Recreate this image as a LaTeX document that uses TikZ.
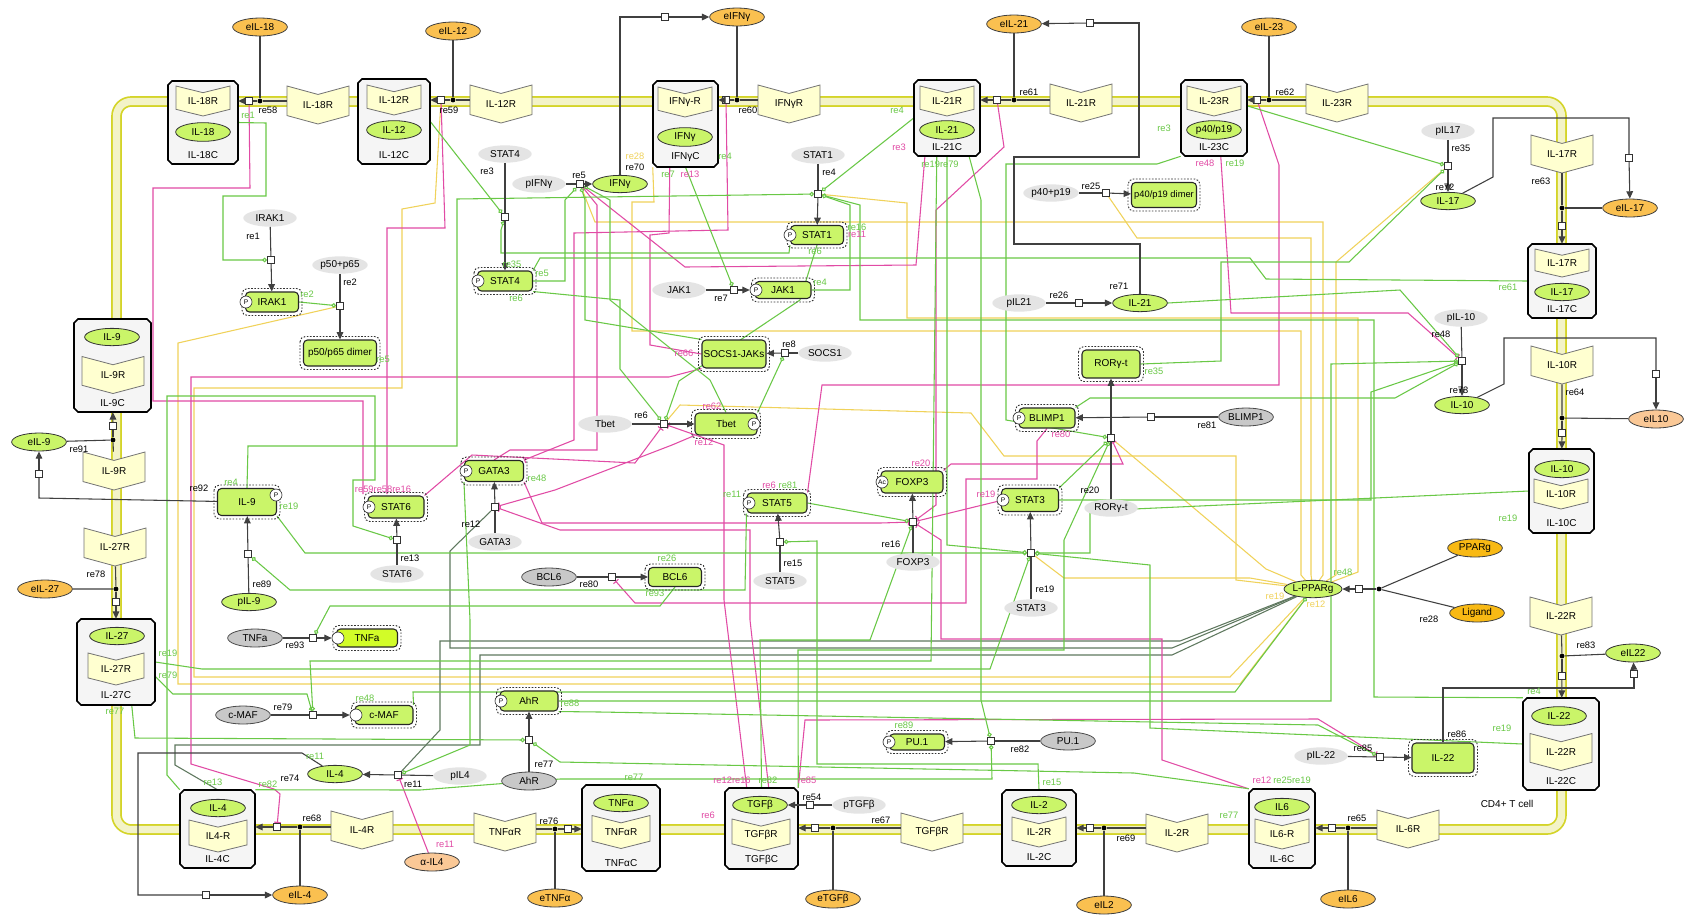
\documentclass[tikz,border=0pt]{standalone}
\usepackage{fontspec}
\setmainfont{Liberation Sans}
\usetikzlibrary{shapes.geometric,arrows.meta,calc}
\pgfdeclarelayer{memb}
\pgfdeclarelayer{lines}
\pgfsetlayers{memb,lines,main}
\definecolor{cG}{RGB}{105,200,70}
\definecolor{cP}{RGB}{225,75,165}
\definecolor{cY}{RGB}{240,210,90}
\definecolor{cD}{RGB}{95,120,95}
\definecolor{nodeG}{RGB}{202,245,105}
\definecolor{tnfG}{RGB}{210,252,40}
\definecolor{ligO}{RGB}{250,192,80}
\definecolor{ligP}{RGB}{250,200,150}
\definecolor{ligD}{RGB}{248,185,20}
\definecolor{geneG}{RGB}{228,228,228}
\definecolor{darkG}{RGB}{200,200,200}
\definecolor{rcpF}{RGB}{255,255,208}
\definecolor{cplxF}{RGB}{245,245,245}
\definecolor{memF}{RGB}{243,243,200}
\definecolor{memL}{RGB}{212,212,40}
\newcounter{lbl}
\newcommand{\lb}[4][black]{\stepcounter{lbl}\node[lbl,text=#1] (lb\arabic{lbl}) at (#2,#3) {#4};}
\newcommand{\cplx}[7]{%
  \draw[cplxd] ({#2+4},#3) -- ({#4-4},#3) -- (#4,{#3+4}) -- (#4,{#5-4}) -- ({#4-4},#5) -- ({#2+4},#5) -- (#2,{#5-4}) -- (#2,{#3+4}) -- cycle;
  \node[inner sep=0pt, minimum width={(#4-#2)*0.75pt}, minimum height={(#5-#3)*0.75pt}] (#1) at ({(#2+#4)/2},{(#3+#5)/2}) {};
  \node[inner sep=0pt] (#1l) at ({(#2+#4)/2},#7) {#6};
}
\newcommand{\rcp}[6]{%
  \draw[rcpd] ({#2-#4/2},{#3-#5/2}) -- (#2,{#3-#5/2+#5/4.5}) -- ({#2+#4/2},{#3-#5/2}) -- ({#2+#4/2},{#3+#5/2-#5/4.5}) -- (#2,{#3+#5/2}) -- ({#2-#4/2},{#3+#5/2-#5/4.5}) -- cycle;
  \node[inner sep=0pt, minimum width={#4*0.75pt}, minimum height={#5*0.75pt}] (#1) at (#2,#3) {#6};
}
\newcommand{\prot}[7][nodeG]{%
  \draw[dashbox] ({#3-#5/2-3.5},{#4-#6/2-3.5}) rectangle ({#3+#5/2+3.5},{#4+#6/2+3.5});
  \node[protn, fill=#1, minimum width={#5*0.75pt}, minimum height={#6*0.75pt}] (#2) at (#3,#4) {#7};
}
\newcommand{\mc}[4]{\node[modcirc] (#1) at (#2,#3) {#4};}
\tikzset{
 rl/.style={draw=black!75, line width=0.8pt},
 rla/.style={rl, -{Triangle[length=5.5pt,width=5pt]}},
 sq/.style={rectangle, draw=black!80, fill=white, inner sep=0pt, minimum size=5.5pt, line width=0.6pt},
 dotn/.style={circle, fill=black, inner sep=0pt, minimum size=3.6pt},
 lig/.style={ellipse, draw=black!75, fill=ligO, inner sep=0pt, minimum width=41pt, minimum height=13.5pt, line width=0.6pt},
 gene/.style={ellipse, fill=geneG, inner sep=0pt, minimum width=40pt, minimum height=13pt},
 dgene/.style={ellipse, fill=darkG, draw=black!70, line width=0.6pt, inner sep=0pt, minimum width=41pt, minimum height=13.5pt},
 spe/.style={ellipse, fill=nodeG, draw=black!80, line width=0.6pt, inner sep=0pt, minimum width=41pt, minimum height=13pt},
 protn/.style={rectangle, rounded corners=3pt, draw=black!85, line width=0.8pt, inner sep=0pt},
 dashbox/.style={draw=black!80, line width=0.7pt, dash pattern=on 1.2pt off 1.2pt, rounded corners=4pt},
 modcirc/.style={circle, draw=black!80, fill=white, inner sep=0pt, minimum size=9pt, line width=0.5pt, font=\fontsize{5}{5}\selectfont},
 rcpd/.style={draw=black!55, fill=rcpF, line width=0.6pt},
 cplxd/.style={draw=black, fill=cplxF, line width=1.2pt},
 lbl/.style={inner sep=0pt, font=\fontsize{7}{7}\selectfont},
 gl/.style={draw=cG, line width=0.8pt},
 gm/.style={gl, -{Circle[length=3.4pt,fill=white]}},
 pl/.style={draw=cP, line width=0.8pt},
 pb/.style={pl, -{Bar[width=5pt]}},
 yl/.style={draw=cY, line width=0.8pt},
 dl/.style={draw=cD, line width=0.8pt},
}
\begin{document}
\begin{tikzpicture}[x=0.75pt,y=-0.75pt,font=\fontsize{7.5}{8}\selectfont]
\useasboundingbox (0,0) rectangle (1687,922);
\begin{pgfonlayer}{memb}
\fill[white] (0,0) rectangle (1687,922);
\draw[memL, line width=8pt, rounded corners=11pt] (116.5,101.5) rectangle (1561.5,829.5);
\draw[memF, line width=5.4pt, rounded corners=11pt] (116.5,101.5) rectangle (1561.5,829.5);
\end{pgfonlayer}

% ---------- complexes ----------
\cplx{C18}{168}{81}{238}{164}{IL-18C}{155}
\rcp{C18r}{203}{101}{54}{30}{IL-18R}
\node[spe, minimum height=14pt] (C18e) at (203,132) {IL-18};
\cplx{C12}{358}{79}{430}{164}{IL-12C}{155}
\rcp{C12r}{394}{100}{54}{30}{IL-12R}
\node[spe, minimum height=14pt] (C12e) at (394,130) {IL-12};
\cplx{CIFN}{653}{81}{718}{167}{IFNγC}{157}
\rcp{CIFNr}{685}{102}{54}{30}{IFNγ-R}
\node[spe, minimum height=14pt] (CIFNe) at (685,137) {IFNγ};
\cplx{C21}{914}{80}{980}{156}{IL-21C}{147}
\rcp{C21r}{947}{101}{54}{30}{IL-21R}
\node[spe, minimum height=14pt] (C21e) at (947,130) {IL-21};
\cplx{C23}{1181}{80}{1247}{156}{IL-23C}{147}
\rcp{C23r}{1214}{101}{54}{30}{IL-23R}
\node[spe, minimum height=14pt] (C23e) at (1214,130) {p40/p19};
\cplx{C17}{1528}{244}{1596}{318}{IL-17C}{309}
\rcp{C17r}{1562}{263}{54}{28}{IL-17R}
\node[spe] (C17e) at (1562,292) {IL-17};
\cplx{C10}{1529}{449}{1594}{533}{IL-10C}{523}
\node[spe] (C10e) at (1562,469) {IL-10};
\rcp{C10r}{1561}{494}{54}{30}{IL-10R}
\cplx{C22}{1523}{698}{1599}{790}{IL-22C}{781}
\node[spe, minimum height=14pt] (C22e) at (1559,716) {IL-22};
\rcp{C22r}{1561}{752}{62}{37}{IL-22R}
\cplx{C6}{1249}{789}{1315}{868}{IL-6C}{859}
\node[spe] (C6e) at (1282,807) {IL6};
\rcp{C6r}{1282}{834}{54}{30}{IL6-R}
\cplx{C2}{1002}{790}{1076}{866}{IL-2C}{857}
\node[spe] (C2e) at (1039,805) {IL-2};
\rcp{C2r}{1039}{832}{54}{30}{IL-2R}
\cplx{CTGF}{725}{788}{798}{869}{TGFβC}{860}
\node[spe] (CTGFe) at (760,805) {TGFβ};
\rcp{CTGFr}{761}{835}{58}{32}{TGFβR}
\cplx{CTNF}{582}{785}{660}{871}{TNFαC}{863}
\node[spe] (CTNFe) at (621,803) {TNFα};
\rcp{CTNFr}{621}{832}{58}{33}{TNFαR}
\cplx{C4}{180}{790}{255}{868}{IL-4C}{859}
\node[spe] (C4e) at (218,808) {IL-4};
\rcp{C4r}{218}{836}{58}{32}{IL4-R}
\cplx{C27}{77}{619}{155}{705}{IL-27C}{695}
\node[spe] (C27e) at (117,636) {IL-27};
\rcp{C27r}{116}{669}{56}{32}{IL-27R}
\cplx{C9}{74}{319}{151}{412}{IL-9C}{403}
\node[spe] (C9e) at (112,337) {IL-9};
\rcp{C9r}{113}{375}{62}{37}{IL-9R}

% ---------- membrane receptors ----------
\rcp{R18}{318}{105}{62}{38}{IL-18R}
\rcp{R12}{501}{104}{62}{38}{IL-12R}
\rcp{RIFN}{789}{104}{62}{38}{IFNγR}
\rcp{R21}{1081}{103}{62}{38}{IL-21R}
\rcp{R23}{1337}{103}{62}{38}{IL-23R}
\rcp{R17}{1562}{154}{62}{38}{IL-17R}
\rcp{R10}{1562}{365}{62}{38}{IL-10R}
\rcp{R22}{1561}{616}{62}{38}{IL-22R}
\rcp{R6}{1408}{829}{62}{38}{IL-6R}
\rcp{R2}{1177}{833}{62}{38}{IL-2R}
\rcp{RTGF}{932}{832}{62}{38}{TGFβR}
\rcp{RTNF}{505}{832}{62}{38}{TNFαR}
\rcp{R4}{362}{830}{62}{38}{IL-4R}
\rcp{R27}{115}{547}{62}{38}{IL-27R}
\rcp{R9}{114}{471}{62}{38}{IL-9R}

% ---------- external ligands ----------
\node[lig] (eIL18) at (260,27) {eIL-18};
\node[lig] (eIL12) at (453,31) {eIL-12};
\node[lig] (eIFNg) at (737,17) {eIFNγ};
\node[lig] (eIL21) at (1014,24) {eIL-21};
\node[lig] (eIL23) at (1269,27) {eIL-23};
\node[lig] (eIL17) at (1630,208) {eIL-17};
\node[lig, fill=ligP] (eIL10) at (1656,419) {eIL10};
\node[spe, minimum height=13.5pt] (eIL22) at (1633,653) {eIL22};
\node[lig] (eIL6) at (1348,899) {eIL6};
\node[lig] (eIL2) at (1104,905) {eIL2};
\node[lig] (eTGFb) at (833,899) {eTGFβ};
\node[lig] (eTNFa) at (555,898) {eTNFα};
\node[lig, fill=ligP] (aIL4) at (432,862) {α-IL4};
\node[lig] (eIL4) at (300,895) {eIL-4};
\node[lig] (eIL27) at (45,589) {eIL-27};
\node[spe, minimum height=13.5pt] (eIL9) at (39,442) {eIL-9};

% ---------- membrane reactions ----------
\node[dotn] (d58) at (260,101) {}; \node[sq] (s58) at (249,101) {};
\node[dotn] (d59) at (453,100) {}; \node[sq] (s59) at (441,100) {};
\node[dotn] (d60) at (737,100) {}; \node[sq] (s60) at (726,100) {};
\node[dotn] (d61) at (1014,100) {}; \node[sq] (s61) at (997,100) {};
\node[dotn] (d62) at (1269,100) {}; \node[sq] (s62) at (1257,100) {};
\node[dotn] (d63) at (1562,208) {}; \node[sq] (s63) at (1562,226) {};
\node[dotn] (d64) at (1562,418) {}; \node[sq] (s64) at (1562,433) {};
\node[dotn] (d83) at (1562,656) {}; \node[sq] (s83) at (1562,676) {};
\node[dotn] (d65) at (1348,828) {}; \node[sq] (s65) at (1332,828) {};
\node[dotn] (d69) at (1104,828) {}; \node[sq] (s69) at (1090,828) {};
\node[dotn] (d67) at (833,828) {}; \node[sq] (s67) at (815,828) {};
\node[dotn] (d76) at (555,829) {}; \node[sq] (s76) at (568,829) {};
\node[dotn] (d68) at (300,827) {}; \node[sq] (s68) at (277,827) {};
\node[dotn] (d78) at (116,589) {}; \node[sq] (s78) at (116,602) {};
\node[dotn] (d91) at (113,440) {}; \node[sq] (s91) at (113,426) {};

\draw[rl] (eIL18) -- (d58) -- (d58 -| R18.west); \draw[rl] (d58) -- (s58); \draw[rla] (s58) -- (s58 -| C18.east);
\draw[rl] (eIL12) -- (d59) -- (d59 -| R12.west); \draw[rl] (d59) -- (s59); \draw[rla] (s59) -- (s59 -| C12.east);
\draw[rl] (eIFNg) -- (d60) -- (d60 -| RIFN.west); \draw[rl] (d60) -- (s60); \draw[rla] (s60) -- (s60 -| CIFN.east);
\draw[rl] (eIL21) -- (d61) -- (d61 -| R21.west); \draw[rl] (d61) -- (s61); \draw[rla] (s61) -- (s61 -| C21.east);
\draw[rl] (eIL23) -- (d62) -- (d62 -| R23.west); \draw[rl] (d62) -- (s62); \draw[rla] (s62) -- (s62 -| C23.east);
\draw[rl] (R17) -- (d63) -- (eIL17); \draw[rl] (d63) -- (s63); \draw[rla] (s63) -- (C17);
\draw[rl] (R10) -- (d64) -- (eIL10); \draw[rl] (d64) -- (s64); \draw[rla] (s64) -- (C10);
\draw[rl] (R22) -- (d83) -- (eIL22); \draw[rl] (d83) -- (s83); \draw[rla] (s83) -- (C22);
\draw[rl] (eIL6) -- (d65) -- (d65 -| R6.west); \draw[rl] (d65) -- (s65); \draw[rla] (s65) -- (s65 -| C6.east);
\draw[rl] (eIL2) -- (d69) -- (d69 -| R2.west); \draw[rl] (d69) -- (s69); \draw[rla] (s69) -- (s69 -| C2.east);
\draw[rl] (eTGFb) -- (d67) -- (d67 -| RTGF.west); \draw[rl] (d67) -- (s67); \draw[rla] (s67) -- (s67 -| CTGF.east);
\draw[rl] (eTNFa) -- (d76) -- (d76 -| RTNF.east); \draw[rl] (d76) -- (s76); \draw[rla] (s76) -- (s76 -| CTNF.west);
\draw[rl] (eIL4) -- (d68) -- (d68 -| R4.west); \draw[rl] (d68) -- (s68); \draw[rla] (s68) -- (s68 -| C4.east);
\draw[rl] (R27) -- (d78) -- (eIL27); \draw[rl] (d78) -- (s78); \draw[rla] (s78) -- (C27);
\draw[rl] (R9) -- (d91) -- (eIL9); \draw[rl] (d91) -- (s91); \draw[rla] (s91) -- (C9);

% ---------- intracellular species ----------
\node[gene] (IRAK1g) at (270,218) {IRAK1};
\node[sq] (s1) at (271,260) {};
\prot{IRAK1n}{272}{302}{53}{20}{IRAK1}
\mc{IRAK1p}{246}{302}{P}
\node[gene] (p5065g) at (340,265) {p50+p65};
\node[sq] (s2) at (340,306) {};
\prot{p5065n}{340}{353}{73}{26}{p50/p65 dimer}
\node[gene] (STAT4g) at (505,154) {STAT4};
\node[sq] (s3) at (505,217) {};
\prot{STAT4n}{505}{281}{55}{20}{STAT4}
\mc{STAT4p}{478}{281}{P}
\node[gene] (pIFNg) at (539,184) {pIFNγ};
\node[sq] (s5) at (580,184) {};
\node[spe] (IFNg) at (620,184) {IFNγ};
\node[gene] (STAT1g) at (818,155) {STAT1};
\node[sq] (s4) at (818,194) {};
\prot{STAT1n}{817}{235}{53}{19}{STAT1}
\mc{STAT1p}{790}{235}{P}
\node[gene] (JAK1g) at (679,290) {JAK1};
\node[sq] (s7) at (734,290) {};
\prot{JAK1n}{783}{290}{56}{17}{JAK1}
\mc{JAK1p}{756}{290}{P}
\node[gene] (SOCS1g) at (825,353) {SOCS1};
\node[sq] (s8) at (785,353) {};
\prot{SOCS1JAKs}{734}{354}{64}{28}{SOCS1-JAKs}
\node[gene] (Tbetg) at (605,424) {Tbet};
\node[sq] (s6) at (664,424) {};
\prot{Tbetn}{726}{424}{62}{22}{Tbet}
\mc{Tbetp}{754}{424}{P}
\prot{GATA3n}{494}{471}{59}{21}{GATA3}
\mc{GATA3p}{466}{471}{P}
\node[sq] (s12) at (495,507) {};
\node[gene] (GATA3g) at (495,542) {GATA3};
\prot{STAT6n}{396}{507}{56}{22}{STAT6}
\mc{STAT6p}{369}{507}{P}
\node[sq] (s13) at (397,540) {};
\node[gene] (STAT6g) at (397,574) {STAT6};
\prot{IL9n}{247}{502}{59}{27}{IL-9}
\mc{IL9p}{276}{495}{P}
\node[sq] (s89) at (248,554) {};
\node[spe] (pIL9) at (249,602) {pIL-9};
\node[dgene] (BCL6g) at (549,577) {BCL6};
\node[sq] (s80) at (612,577) {};
\prot{BCL6n}{675}{577}{53}{19}{BCL6}
\prot{STAT5n}{777}{503}{60}{20}{STAT5}
\mc{STAT5p}{749}{503}{P}
\node[sq] (s15) at (780,542) {};
\node[gene] (STAT5g) at (780,581) {STAT5};
\prot{FOXP3n}{912}{482}{62}{22}{FOXP3}
\mc{FOXP3p}{882}{482}{Ac}
\node[sq] (s16) at (913,522) {};
\node[gene] (FOXP3g) at (913,562) {FOXP3};
\prot{STAT3n}{1030}{500}{57}{23}{STAT3}
\mc{STAT3p}{1003}{500}{P}
\node[sq] (s19) at (1031,553) {};
\node[gene] (STAT3g) at (1031,608) {STAT3};
\prot{BLIMP1n}{1047}{418}{56}{20}{BLIMP1}
\mc{BLIMP1p}{1019}{418}{P}
\node[sq] (s81) at (1151,417) {};
\node[dgene] (BLIMP1g) at (1246,417) {BLIMP1};
\prot{RORgtn}{1111}{364}{58}{28}{RORγ-t}
\node[sq] (s20) at (1111,438) {};
\node[gene] (RORgg) at (1111,508) {RORγ-t};
\node[gene] (p4019g) at (1051,193) {p40+p19};
\node[sq] (s25) at (1106,193) {};
\prot{p4019n}{1164}{195}{65}{25}{\fontsize{7}{7}\selectfont p40/p19 dimer}
\node[gene] (pIL21) at (1019,303) {pIL21};
\node[sq] (s26) at (1079,303) {};
\node[spe] (IL21e) at (1140,303) {IL-21};
\node[gene] (pIL17) at (1448,131) {pIL17};
\node[sq] (s35) at (1448,166) {};
\node[spe] (IL17e) at (1448,201) {IL-17};
\node[gene] (pIL10) at (1461,318) {pIL-10};
\node[sq] (s73) at (1462,361) {};
\node[spe] (IL10e) at (1462,405) {IL-10};
\node[lig, fill=ligD] (PPARg) at (1475,548) {PPARg};
\node[lig, fill=ligD] (Ligand) at (1477,613) {Ligand};
\node[dotn] (d28) at (1379,589) {};
\node[sq] (s28) at (1359,589) {};
\node[spe] (LPPARg) at (1313,589) {L-PPARg};
\node[gene] (pIL22) at (1321,756) {pIL-22};
\node[sq] (s85) at (1380,757) {};
\prot{IL22n}{1443}{758}{62}{30}{IL-22}
\prot{PU1n}{917}{742}{55}{16}{PU.1}
\mc{PU1p}{889}{742}{P}
\node[sq] (s82) at (991,741) {};
\node[dgene] (PU1g) at (1068,741) {PU.1};
\node[gene] (pTGFb) at (859,805) {pTGFβ};
\node[sq] (s54) at (810,805) {};
\prot{AhRn}{529}{701}{58}{20}{AhR}
\mc{AhRp}{501}{701}{P}
\node[sq] (s77) at (529,740) {};
\node[dgene] (AhRg) at (529,781) {AhR};
\node[gene] (pIL4) at (460,776) {pIL4};
\node[sq] (s11) at (398,775) {};
\node[spe] (IL4e) at (335,774) {IL-4};
\node[dgene] (cMAFg) at (243,715) {c-MAF};
\node[sq] (s79) at (313,715) {};
\prot{cMAFn}{384}{715}{58}{19}{c-MAF}
\mc{cMAFc}{356}{715}{}
\node[dgene] (TNFag) at (255,638) {TNFa};
\node[sq] (s93) at (313,638) {};
\prot[tnfG]{TNFan}{367}{638}{61}{18}{TNFa}
\mc{TNFac}{338}{638}{}

% secretion squares
\node[sq] (s70) at (665,17) {};
\node[sq] (s71) at (1090,23) {};
\node[sq] (s72b) at (1629,158) {};
\node[sq] (s73b) at (1656,374) {};
\node[sq] (s86) at (1634,674) {};
\node[sq] (s74) at (206,895) {};
\node[sq] (s92) at (39,474) {};

% ---------- black reactions ----------
\draw[rl] (IRAK1g) -- (s1); \draw[rla] (s1) -- (IRAK1n);
\draw[rl] (p5065g) -- (s2); \draw[rla] (s2) -- (p5065n);
\draw[rl] (STAT4g) -- (s3); \draw[rla] (s3) -- (STAT4n);
\draw[rl] (pIFNg) -- (s5); \draw[rla] (s5) -- (IFNg);
\draw[rl] (STAT1g) -- (s4); \draw[rla] (s4) -- (STAT1n);
\draw[rl] (JAK1g) -- (s7); \draw[rla] (s7) -- (JAK1p);
\draw[rl] (SOCS1g) -- (s8); \draw[rla] (s8) -- (SOCS1JAKs);
\draw[rl] (Tbetg) -- (s6); \draw[rla] (s6) -- (Tbetn);
\draw[rl] (GATA3g) -- (s12); \draw[rla] (s12) -- (GATA3n);
\draw[rl] (STAT6g) -- (s13); \draw[rla] (s13) -- (STAT6n);
\draw[rl] (pIL9) -- (s89); \draw[rla] (s89) -- (IL9n);
\draw[rl] (BCL6g) -- (s80); \draw[rla] (s80) -- (BCL6n);
\draw[rl] (STAT5g) -- (s15); \draw[rla] (s15) -- (STAT5n);
\draw[rl] (FOXP3g) -- (s16); \draw[rla] (s16) -- (FOXP3n);
\draw[rl] (STAT3g) -- (s19); \draw[rla] (s19) -- (STAT3n);
\draw[rl] (BLIMP1g) -- (s81); \draw[rla] (s81) -- (BLIMP1n);
\draw[rl] (RORgg) -- (s20); \draw[rla] (s20) -- (RORgtn);
\draw[rl] (p4019g) -- (s25); \draw[rla] (s25) -- (p4019n);
\draw[rl] (pIL21) -- (s26); \draw[rla] (s26) -- (IL21e);
\draw[rl] (pIL17) -- (s35); \draw[rla] (s35) -- (IL17e);
\draw[rl] (pIL10) -- (s73); \draw[rla] (s73) -- (IL10e);
\draw[rl] (PPARg) -- (d28) -- (Ligand); \draw[rl] (d28) -- (s28); \draw[rla] (s28) -- (LPPARg);
\draw[rl] (pIL22) -- (s85); \draw[rla] (s85) -- (IL22n);
\draw[rl] (PU1g) -- (s82); \draw[rla] (s82) -- (PU1n);
\draw[rl] (pTGFb) -- (s54); \draw[rla] (s54) -- (CTGFe);
\draw[rl] (AhRg) -- (s77); \draw[rla] (s77) -- (AhRn);
\draw[rl] (pIL4) -- (s11); \draw[rla] (s11) -- (IL4e);
\draw[rl] (cMAFg) -- (s79); \draw[rla] (s79) -- (cMAFc);
\draw[rl] (TNFag) -- (s93); \draw[rla] (s93) -- (TNFac);
% secretion
\draw[rl] (IFNg) -- (IFNg |- s70) -- (s70); \draw[rla] (s70) -- (eIFNg);
\draw[rl] (IL21e) -- (1140,244) -- (1014,244) -- (1014,157) -- (1139,157) -- (1139,23) -- (s71); \draw[rla] (s71) -- (eIL21);
\draw[rl] (IL17e) -- (1493,177) -- (1493,118) -- (1629,118) -- (s72b); \draw[rla] (s72b) -- (eIL17);
\draw[rl] (IL10e) -- (1504,384) -- (1504,338) -- (1656,338) -- (s73b); \draw[rla] (s73b) -- (eIL10);
\draw[rl] (IL22n.north) -- (1443,688) -- (1634,688) -- (s86); \draw[rla] (s86) -- (eIL22);
\draw[rl] (IL4e) -- (302,753) -- (138,753) -- (138,895) -- (s74); \draw[rla] (s74) -- (eIL4);
\draw[rl] (IL9n) -- (39,498) -- (s92); \draw[rla] (s92) -- (eIL9);

% ---------- modulation lines ----------
\begin{pgfonlayer}{lines}
% yellow
\draw[yl] (s59) -- (435,203) -- (402,209) -- (402,388) -- (194,388) -- (194,677) -- (1230,677) -- (LPPARg);
\draw[yl] (s2) -- (178,343) -- (178,684) -- (1240,684) -- (LPPARg);
\draw[yl] (s5) -- (595,222) -- (1323,222) -- (1323,575) -- (LPPARg);
\draw[yl] (CIFN.south west) -- (654,202) -- (632,202) -- (632,331) -- (1301,331) -- (1301,575) -- (LPPARg);
\draw[yl] (s20) -- (1266,569) -- (LPPARg);
\draw[yl] (s19) -- (1064,578) -- (1250,578) -- (LPPARg);
\draw[yl] (s25) -- (1137,238) -- (1311,238) -- (1311,575) -- (LPPARg);
\draw[yl] (s35) -- (1336,262) -- (1336,575) -- (LPPARg);
\draw[yl] (s4) -- (907,203) -- (907,318) -- (1358,318) -- (1358,572) -- (LPPARg);
\draw[yl] (s6) -- (680,405) -- (971,413) -- (1004,456) -- (1236,456) -- (1236,580) -- (LPPARg);
% dark
\draw[dl] (C4.north) -- (175,765) -- (175,745) -- (480,745) -- (480,655) -- (1172,655) -- (LPPARg);
\draw[dl] (s12) -- (450,551) -- (450,648) -- (1172,648) -- (LPPARg);
\draw[dl] (s11) -- (440,730) -- (440,641) -- (1180,641) -- (LPPARg);
% pink
\draw[pl] (s58) -- (250,188) -- (153,188) -- (153,401) -- (363,401) -- (363,494);
\draw[pl] (s59) -- (445,228) -- (387,228) -- (387,494);
\draw[pb] (SOCS1JAKs.south west) -- (669,377) -- (191,377) -- (191,764) -- (274,789) -- (280,794) -- (s68);
\draw[pl] (CIFN.-110) -- (669,233) -- (650,235) -- (650,345) -- (SOCS1JAKs.west);
\draw[pb] (s60) -- (728,230) -- (574,233) -- (574,440) -- (GATA3n.north east);
\draw[pb] (C21.-120) -- (916,265) -- (685,267) -- (s5);
\draw[pb] (s61) -- (1004,147) -- (936,210) -- (936,505) -- (s16);
\draw[pb] (C23.-80) -- (1231,313) -- (1408,313) -- (s73);
\draw[pl] (s62) -- (1279,165) -- (1279,385) -- (822,385) -- (STAT5n.north east);
\draw[pb] (Tbetn.south west) -- (672,445) -- (555,490) -- (s12);
\draw[pb] (STAT6n.north east) -- (472,455) -- (635,463) -- (s6);
\draw[pb] (GATA3n.south east) -- (542,523) -- (880,523) -- (s16);
\draw[pb] (BLIMP1n.south) -- (1037,441) -- (1037,479) -- (966,479) -- (966,603) -- (635,603) -- (s80);
\draw[pb] (FOXP3n.north east) -- (951,464) -- (1123,464) -- (s20);
\draw[pl] (s16) -- (STAT3p);
\draw[pb] (CTGF.110) -- (724,600) -- (724,445) -- (s6);
\draw[pb] (CTGF.80) -- (750,620) -- (750,530) -- (560,530) -- (s12);
\draw[pb] (CTGF.north east) -- (805,720) -- (1318,719) -- (s85);
\draw[pb] (C6.130) -- (1162,760) -- (1162,639) -- (941,639) -- (941,540) -- (s16);
\draw[pb] (aIL4) -- (s11);
\draw[pb] (GATA3n.north) -- (510,450) -- (597,450) -- (597,205) -- (s5);
% green
\draw[gm] (C18.east) -- (266,123) -- (266,196) -- (223,196) -- (223,260) -- (s1);
\draw[gm] (IRAK1n.east) -- (s2);
\draw[gm] (C12.east) -- (s3);
\draw[gm] (STAT1n.south west) -- (789,253) -- (501,253) -- (501,230) -- (s3);
\draw[gm] (STAT4n.east) -- (565,281) -- (565,200) -- (s5);
\draw[gm] (IL9n.north) -- (248,446) -- (457,446) -- (457,199) -- (s4);
\draw[gm] (IL9n.south east) -- (305,553) -- (s19);
\draw[gm] (C4.north west) -- (167,775) -- (167,396) -- (375,396) -- (375,480) -- (353,480) -- (353,526) -- (s13);
\draw[gm] (STAT5n.south west) -- (745,590) -- (290,590) -- (s89);
\draw[gm] (BCL6n.south) -- (660,606) -- (330,606) -- (s93);
\draw[gm] (C27.east) -- (202,669) -- (990,669) -- (s19);
\draw[gm] (C27.-20) -- (173,694) -- (307,694) -- (s79);
\draw[gm] (C27.-70) -- (135,738) -- (s77);
\draw[gm] (GATA3n.south west) -- (470,620) -- (470,745) -- (s11);
\draw[gm] (cMAFn.north east) -- (413,692) -- (1235,692) -- (LPPARg);
\draw[gm] (AhRn.east) -- (1331,701) -- (1331,364) -- (s73);
\draw[gm] (STAT3n.east) -- (1371,500) -- (1371,392) -- (s73);
\draw[gm] (BLIMP1n.north east) -- (1090,398) -- (1395,398) -- (s73);
\draw[gl] (C17.west) -- (1266,279) -- (1250,258) -- (540,258) -- (STAT4n.north east);
\draw[gm] (C10.west) -- (1090,511) -- (1090,553) -- (s19);
\draw[gm] (C22.north west) -- (1374,697) -- (1374,320) -- (860,320) -- (860,205) -- (s4);
\draw[gm] (C22.west) -- (1150,728) -- (1150,565) -- (s19);
\draw[gm] (C6.north west) -- (1134,773) -- (560,762) -- (s77);
\draw[gm] (C2.north) -- (1038,764) -- (817,764) -- (817,541) -- (s15);
\draw[gm] (C4.north east) -- (420,790) -- (560,779) -- (992,779) -- (s82);
\draw[gm] (STAT5n.east) -- (s16);
\draw[gm] (CTGF.north) -- (760,640) -- (870,640) -- (s16);
\draw[gm] (CTGF.north east) -- (798,650) -- (1064,650) -- (1064,540) -- (s20);
\draw[gm] (C21.west) -- (s4);
\draw[gm] (C23.south west) -- (1157,164) -- (1006,164) -- (1006,420) -- (s20);
\draw[gm] (C21.south) -- (947,545) -- (s19);
\draw[gm] (C21.-105) -- (931,661) -- (310,661) -- (s79);
\draw[gm] (C21.-60) -- (981,200) -- (981,700) -- (s82);
\draw[gm] (C23.20) -- (s35);
\draw[gm] (RORgtn.east) -- (1221,361) -- (1221,262) -- (1349,262) -- (s35);
\draw[gm] (STAT3n.north east) -- (s20);
\draw[gm] (CIFN.south) -- (s7);
\draw[gm] (STAT4n.south east) -- (620,300) -- (620,369) -- (s6);
\draw[gm] (STAT1n.south) -- (800,300) -- (679,381) -- (s6);
\draw[gm] (JAK1n.east) -- (850,290) -- (850,205) -- (s4);
\draw[gm] (Tbetn.north east) -- (s8);
\draw[gm] (Tbetn.north) -- (710,380) -- (610,300) -- (610,200) -- (s5);
\draw[gm] (SOCS1JAKs.north west) -- (585,320) -- (585,200) -- (s5);
\draw[gm] (AhRn.south east) -- (600,712) -- (1318,725) -- (s85);
\draw[gm] (IL21e.east) -- (1400,290) -- (s73);
\end{pgfonlayer}

% ---------- labels ----------
\lb{268}{110}{re58} \lb{449}{110}{re59} \lb{748}{110}{re60} \lb{1029}{92}{re61} \lb{1285}{92}{re62}
\lb{1541}{181}{re63} \lb{1575}{392}{re64} \lb{1586}{645}{re83} \lb{1357}{818}{re65} \lb{1126}{838}{re69}
\lb{881}{820}{re67} \lb{549}{821}{re76} \lb{312}{818}{re68} \lb{96}{574}{re78} \lb{79}{449}{re91}
\lb{199}{488}{re92} \lb{253}{236}{re1} \lb{350}{282}{re2} \lb{487}{171}{re3} \lb{579}{175}{re5}
\lb{635}{167}{re70} \lb{829}{172}{re4} \lb{721}{298}{re7} \lb{789}{344}{re8} \lb{641}{415}{re6}
\lb{471}{524}{re12} \lb{410}{558}{re13} \lb{262}{584}{re89} \lb{589}{584}{re80} \lb{793}{563}{re15}
\lb{891}{544}{re16} \lb{1045}{589}{re19} \lb{1090}{490}{re20} \lb{1207}{425}{re81} \lb{1091}{186}{re25}
\lb{1059}{295}{re26} \lb{1119}{286}{re71} \lb{1461}{148}{re35} \lb{1445}{187}{re72} \lb{1441}{334}{re48}
\lb{1459}{390}{re73} \lb{1429}{619}{re28} \lb{1363}{748}{re85} \lb{1457}{734}{re86} \lb{1020}{749}{re82}
\lb{812}{797}{re54} \lb{544}{764}{re77} \lb{290}{778}{re74} \lb{413}{784}{re11} \lb{283}{707}{re79}
\lb{295}{645}{re93}
\lb[cG]{248}{115}{re1} \lb[cG]{307}{294}{re2} \lb[cG]{512}{264}{re35} \lb[cG]{542}{273}{re5}
\lb[cG]{516}{298}{re6} \lb[cG]{725}{156}{re4} \lb[cG]{815}{251}{re6} \lb[cG]{820}{282}{re4}
\lb[cG]{897}{110}{re4} \lb[cG]{1164}{128}{re3} \lb[cG]{1508}{287}{re61} \lb[cG]{1508}{518}{re19}
\lb[cG]{1502}{728}{re19} \lb[cG]{1534}{691}{re4} \lb[cG]{383}{359}{re5} \lb[cG]{231}{482}{re4}
\lb[cG]{289}{506}{re19} \lb[cG]{1154}{371}{re35} \lb[cG]{667}{558}{re26} \lb[cG]{655}{593}{re93}
\lb[cG]{732}{494}{re11} \lb[cG]{537}{478}{re48} \lb[cG]{904}{725}{re89} \lb[cG]{1052}{782}{re15}
\lb[cG]{1229}{815}{re77} \lb[cG]{634}{777}{re77} \lb[cG]{570}{703}{re88} \lb[cG]{768}{780}{re82}
\lb[cG]{168}{653}{re19} \lb[cG]{168}{675}{re79} \lb[cG]{115}{711}{re77} \lb[cG]{365}{698}{re48}
\lb[cG]{315}{756}{re11} \lb[cG]{268}{784}{re82} \lb[cG]{213}{782}{re13} \lb[cG]{1343}{572}{re48}
\lb[cG]{940}{164}{re19re79} \lb[cG]{668}{174}{re7} \lb[cG]{1235}{163}{re19} \lb[cG]{1292}{780}{re25re19}
\lb[cG]{857}{227}{re16} \lb[cG]{788}{485}{re81}
\lb[cP]{899}{147}{re3} \lb[cP]{1061}{434}{re80} \lb[cP]{921}{463}{re20} \lb[cP]{704}{442}{re12}
\lb[cP]{712}{406}{re62} \lb[cP]{684}{353}{re66} \lb[cP]{445}{844}{re11} \lb[cP]{708}{815}{re6}
\lb[cP]{732}{780}{re12re16} \lb[cP]{807}{780}{re85} \lb[cP]{690}{174}{re13} \lb[cP]{1205}{163}{re48}
\lb[cP]{383}{489}{re59re58re16} \lb[cP]{986}{494}{re19} \lb[cP]{1262}{780}{re12} \lb[cP]{857}{234}{re11}
\lb[cP]{769}{485}{re6}
\lb[cY]{635}{156}{re28} \lb[cY]{1316}{604}{re12} \lb[cY]{1275}{596}{re19}
\node[inner sep=0pt] (cellname) at (1507,804) {CD4+ T cell};
\end{tikzpicture}
\end{document}
